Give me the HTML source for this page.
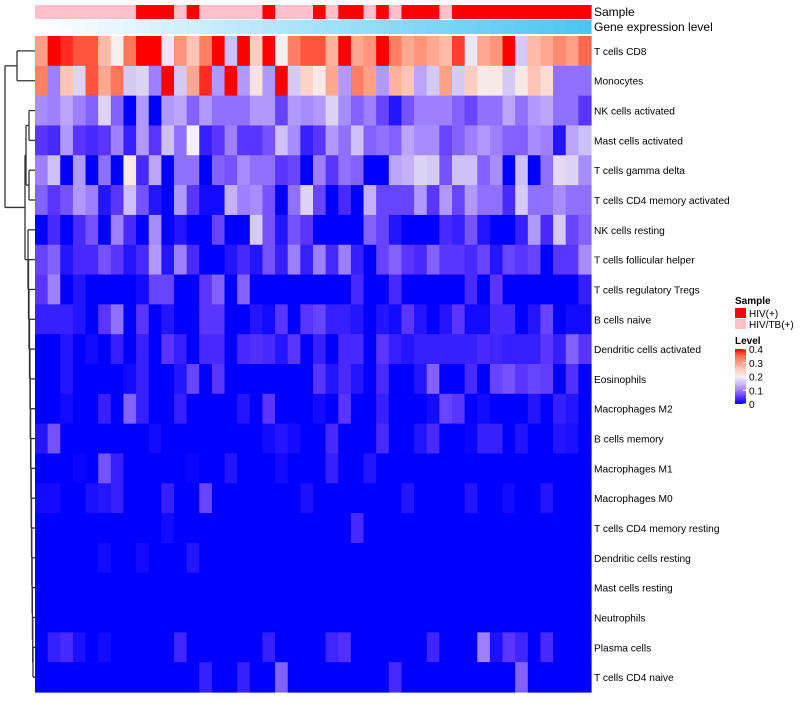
<!DOCTYPE html>
<html><head><meta charset="utf-8"><style>
body{margin:0;background:#fff;font-family:"Liberation Sans",sans-serif}
svg text{font-family:"Liberation Sans",sans-serif}
</style></head><body>
<svg id="chart" width="800" height="700" xmlns="http://www.w3.org/2000/svg">
<g id="dendro" stroke="#333" stroke-width="1.3" fill="none"></g>
<g id="cells"></g>
<g id="annot"></g>
<g id="labels" font-size="10.2" fill="#000" style="white-space:pre"></g>
<text x="594" y="16" font-size="12">Sample</text>
<text x="594" y="31" font-size="12">Gene expression level</text>
<g id="legend" font-size="10"></g>
</svg>
<script>
const rowNames=["T cells CD8","Monocytes","NK cells activated","Mast cells activated","T cells gamma delta","T cells CD4 memory activated","NK cells resting","T cells follicular helper","T cells regulatory  Tregs","B cells naive","Dendritic cells activated","Eosinophils","Macrophages M2","B cells memory","Macrophages M1","Macrophages M0","T cells CD4 memory resting","Dendritic cells resting","Mast cells resting","Neutrophils","Plasma cells","T cells CD4 naive"];
const sampleGroup=["T","T","T","T","T","T","T","T","H","H","H","T","H","T","T","T","T","T","H","T","T","T","H","T","H","H","T","H","T","H","H","H","T","H","H","H","H","H","H","H","H","H","H","H"];
const geneLevel=[0,1,2,3,4,5,6,7,8,9,10,11,12,13,14,15,16,17,18,19,20,21,22,23,24,25,26,27,28,29,30,31,32,33,34,35,36,37,38,39,40,41,42,43];
const r0=[.30,.45,.38,.36,.36,.27,.20,.34,.40,.45,.19,.31,.26,.33,.45,.15,.45,.25,.45,.20,.33,.36,.36,.28,.45,.29,.31,.45,.33,.29,.31,.29,.27,.37,.19,.29,.31,.45,.16,.27,.29,.32,.30,.35];
const r1=[.33,.10,.26,.17,.36,.29,.34,.16,.17,.10,.45,.16,.29,.38,.12,.45,.12,.22,.12,.45,.16,.24,.21,.29,.12,.33,.30,.12,.28,.26,.13,.16,.30,.16,.25,.21,.21,.16,.21,.26,.23,.09,.09,.09];
const r2=[.11,.10,.13,.10,.08,.17,.08,0,.12,0,.12,.13,.08,.12,.09,.09,.09,.12,.12,.06,.12,.11,.12,.17,.11,.08,.10,.06,.02,.07,.10,.10,.10,.08,.06,.09,.09,.13,.09,.12,.13,.09,.09,.05];
const r3=[.05,.04,.12,.05,.04,.05,.10,.03,.12,.05,.15,.09,.20,.03,.05,.10,.05,.05,.07,.15,.11,.03,.05,.12,.09,.15,.08,.09,.08,.13,.11,.11,.06,.08,.10,.12,.10,.08,.08,.11,.10,.02,.13,.15];
const r4=[.10,.15,0,.12,0,.09,0,.21,.04,.13,0,.09,.09,0,.08,.07,.11,.09,.09,.05,.06,0,.10,.05,.09,.08,0,0,.13,.14,.17,.16,.07,.15,.15,.08,.11,0,.15,0,.09,.18,.17,.11];
const r5=[.08,.05,.07,.12,.10,.02,.05,.15,.07,.02,0,.12,.05,.01,.01,.14,.10,.11,.07,0,.09,.17,.06,0,.04,0,.14,.06,.06,.06,.12,.05,.12,.06,.12,.09,.09,.04,.16,.09,.09,.11,.09,.09];
const r6=[0,.04,0,.04,.07,0,.10,.04,0,.11,0,.02,0,0,.06,0,0,.16,.07,.02,.07,.05,0,0,0,0,.08,.06,.02,0,0,0,.04,.03,.07,.02,0,0,.03,.12,.04,.16,.06,.08];
const r7=[.06,.08,.02,.04,.04,.07,.05,.02,.04,.12,.02,.10,.04,0,0,.02,.04,.02,.07,.03,.10,.03,.10,.04,.10,.03,0,.06,.08,.05,.04,.08,.05,.05,.04,.06,.02,.06,.05,.06,0,.05,.05,.11];
const r8=[.05,.10,0,.02,0,0,0,0,.01,.06,.06,0,0,.05,.08,0,.08,0,0,0,0,0,0,0,0,.04,0,0,.04,0,0,0,0,0,.04,0,.05,0,0,0,0,0,0,.03];
const r9=[.03,.03,.03,.02,0,.05,.09,0,.05,0,.02,0,0,.05,.05,0,0,.02,.01,.05,0,.05,.06,.03,.03,.02,0,.02,.01,.05,.02,0,.02,.05,.01,.01,.04,.04,0,.02,.06,0,.01,.01];
const r10=[0,0,.02,0,.01,0,.03,0,.03,0,.05,.03,0,.04,.04,0,.04,.045,.04,.02,.05,0,.03,0,.04,.04,0,.05,.03,.02,.03,.03,.03,.03,.03,.04,.035,.03,.03,.03,.05,.03,.08,.05];
const r11=[0,0,.02,0,0,0,0,.01,.03,0,0,.02,.06,0,.05,0,0,0,0,0,0,0,.05,.02,.04,.02,0,.04,0,0,.02,.08,0,0,.04,0,.06,.07,.05,.06,.055,0,.045,0];
const r12=[0,0,.01,0,0,.03,0,.08,.03,0,0,.03,0,0,0,0,.02,0,.05,0,0,0,.01,0,.05,0,0,.03,0,0,0,.01,.06,.05,0,.01,0,0,0,.02,0,.03,.02,0];
const r13=[.02,.07,0,0,0,0,0,0,0,.01,0,0,0,0,0,0,0,0,.01,.02,.01,0,0,.04,0,0,0,.04,0,0,.02,.04,0,0,.005,.03,.03,0,.02,0,0,.02,.015,0];
const r14=[0,0,0,.005,0,.07,.03,0,0,0,0,0,.005,0,0,.02,0,0,0,.01,0,0,0,.03,0,0,.02,0,0,0,0,0,0,0,0,0,0,0,0,0,0,0,0,0];
const r15=[.01,.01,0,0,.015,.02,.03,0,0,0,.03,0,0,.06,0,0,0,0,0,0,0,.015,0,0,0,0,0,0,0,.02,0,0,0,0,.02,0,0,.01,0,0,.02,0,0,0];
const r16=[0,0,0,0,0,0,0,0,0,0,.01,0,0,0,0,0,0,0,0,0,0,0,0,0,0,.04,0,0,0,0,0,0,0,0,0,0,0,0,0,0,0,0,0,0];
const r17=[0,0,0,0,0,.01,0,0,.01,0,0,0,.02,0,0,0,0,0,0,0,0,0,0,0,0,0,0,0,0,0,0,0,0,0,0,0,0,0,0,0,0,0,0,0];
const r18=[0,0,0,0,0,0,0,0,0,0,0,0,0,0,0,0,0,0,0,0,0,0,0,0,0,0,0,0,0,0,0,0,0,0,0,0,0,0,0,0,0,0,0,0];
const r19=[0,0,0,0,0,0,0,0,0,0,0,0,0,0,0,0,0,0,0,0,0,0,0,0,0,0,0,0,0,0,0,0,0,0,0,0,0,0,0,0,0,0,0,0];
const r20=[0,.03,.04,.015,0,.01,0,0,0,0,0,.035,0,0,0,0,0,0,.03,0,0,0,0,.035,.045,0,0,0,0,0,0,.035,0,0,0,.10,.015,.05,.035,0,.04,0,0,0];
const r21=[0,0,0,0,0,0,0,0,0,0,0,0,0,.03,0,0,.03,0,0,.08,0,0,0,0,0,0,0,0,.04,0,0,0,0,0,0,0,0,0,.08,0,0,0,0,0];
const legendTicks=["0.4","0.3","0.2","0.1","0"];
const legendTickVals=[0.4,0.3,0.2,0.1,0];
const values=[r0,r1,r2,r3,r4,r5,r6,r7,r8,r9,r10,r11,r12,r13,r14,r15,r16,r17,r18,r19,r20,r21];

const NS="http://www.w3.org/2000/svg";
const X0=35,X1=591,Y0=36,Y1=692;
const nC=r0.length,nR=values.length;
const cw=(X1-X0)/nC,rh=(Y1-Y0)/nR;
const xPos=c=>X0+c*cw, yPos=r=>Y0+r*rh;
const stops=[[0,[0,0,255]],[.05,[90,53,255]],[.1,[156,128,255]],[.15,[205,191,248]],[.2,[245,240,240]],[.25,[255,205,191]],[.3,[255,159,134]],[.35,[255,106,79]],[.4,[255,0,0]]];
function col(v){
  if(v<=0)return"rgb(0,0,255)";if(v>=.4)return"rgb(255,0,0)";
  for(let i=1;i<stops.length;i++){if(v<=stops[i][0]){const a=stops[i-1],b=stops[i],t=(v-a[0])/(b[0]-a[0]);
  return"rgb("+a[1].map((x,k)=>Math.round(x+(b[1][k]-x)*t)).join(",")+")";}}
}
function mk(tag,at,parent){const e=document.createElementNS(NS,tag);for(const k in at)e.setAttribute(k,at[k]);parent.appendChild(e);return e;}
const cells=document.getElementById("cells");
values.forEach((row,r)=>row.forEach((v,c)=>{
  const e=mk("rect",{x:xPos(c),y:yPos(r),width:cw+0.6,height:rh+0.6,fill:col(v)},cells);
  
  
}));
const labels=document.getElementById("labels");
rowNames.forEach((n,r)=>{
  const t=mk("text",{x:594,y:yPos(r)+rh/2+4},labels);t.textContent=n;
  
  
});
const annot=document.getElementById("annot");
const gmax=Math.max(...geneLevel);
sampleGroup.forEach((g,c)=>{
  const e=mk("rect",{x:xPos(c),y:5,width:cw+0.6,height:14,fill:g==="H"?"#ff0000":"#ffc0cb"},annot);
  
  
  const t=geneLevel[c]/gmax;
  const e2=mk("rect",{x:xPos(c),y:20,width:cw+0.6,height:14,fill:`rgb(${Math.round(255-180*t)},${Math.round(255-57*t)},${Math.round(255-13*t)})`},annot);
  
  
});
const d=document.getElementById("dendro");
const yc=r=>yPos(r)+rh/2;
function L(x1,y1,x2,y2){mk("line",{x1,y1,x2,y2},d);}
function U(xm,ya,yb,xa,xb){L(xa,ya,xm,ya);L(xb,yb,xm,yb);L(xm,ya,xm,yb);return (ya+yb)/2;}
const m01=U(17,yc(0),yc(1),35,35);
const m23=U(29,yc(2),yc(3),35,35);
const m45=U(29,yc(4),yc(5),35,35);
const mA=U(26,m23,m45,29,29);
let cur=U(33,yc(20),yc(21),35,35);
let curx=33;
for(let r=19;r>=6;r--){const nx=r>=10?Math.max(30,curx-0.3):curx-0.5;cur=U(nx,yc(r),cur,35,curx);curx=nx;}
const mB=U(25,mA,cur,26,curx);
U(5,m01,mB,17,25);
const lg=document.getElementById("legend");
let t=mk("text",{x:735,y:304,"font-weight":"bold"},lg);t.textContent="Sample";
mk("rect",{x:735,y:308,width:11,height:10,fill:"#ff0000"},lg);
t=mk("text",{x:749,y:317},lg);t.textContent="HIV(+)";
mk("rect",{x:735,y:319,width:11,height:10,fill:"#ffc0cb"},lg);
t=mk("text",{x:749,y:328},lg);t.textContent="HIV/TB(+)";
t=mk("text",{x:735,y:344,"font-weight":"bold"},lg);t.textContent="Level";
const defs=mk("defs",{},lg);const gr=mk("linearGradient",{id:"lv",x1:0,y1:1,x2:0,y2:0},defs);
stops.forEach(s=>mk("stop",{offset:s[0]/.4,"stop-color":col(s[0])},gr));
const LY0=349,LY1=404;
mk("rect",{x:735,y:LY0,width:11,height:LY1-LY0,fill:"url(#lv)"},lg);
legendTicks.forEach((s,i)=>{const y=LY1-(LY1-LY0)*legendTickVals[i]/0.4;
  mk("line",{x1:743,y1:y,x2:746,y2:y,stroke:"#fff"},lg);
  const tt=mk("text",{x:749,y:y+4},lg);tt.textContent=s;
  
  
});
</script>
</body></html>
